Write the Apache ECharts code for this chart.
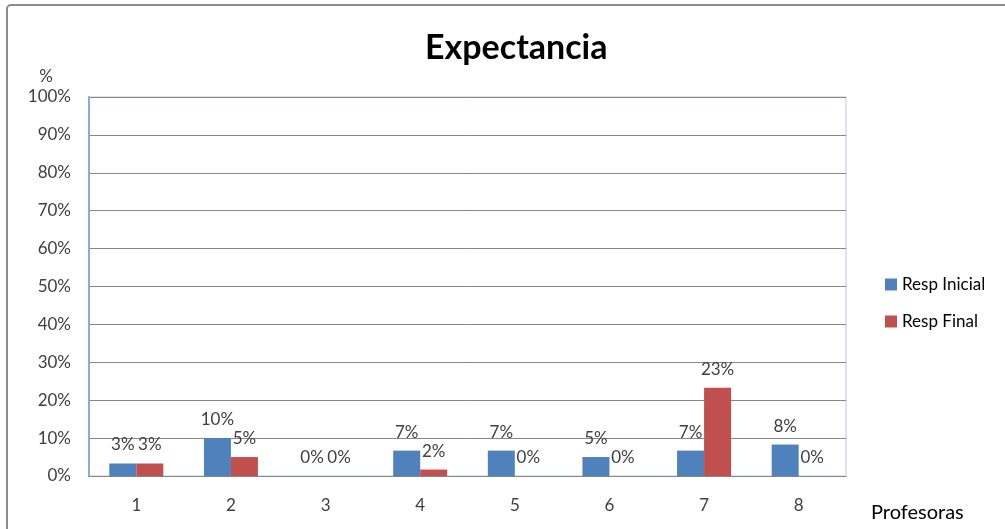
<!DOCTYPE html>
<html>
<head>
<meta charset="utf-8">
<title>Expectancia</title>
<script src="https://cdn.jsdelivr.net/npm/echarts@6/dist/echarts.min.js"></script>
<style>
  html, body { margin: 0; padding: 0; background: #fff; }
  #chart { width: 1005px; height: 529px; }
</style>
</head>
<body>
<div id="chart"></div>
<script>
// profesoras 1..8, valores en %
const categories = ['1', '2', '3', '4', '5', '6', '7', '8']
const respInicial = [3.3, 10, 0, 6.7, 6.7, 5, 6.7, 8.3]
const respFinal = [3.3, 5, 0, 1.7, 0, 0, 23.3, 0]
const yTicks = [0, 10, 20, 30, 40, 50, 60, 70, 80, 90, 100]

const fontFamily = 'Lato'
const textColor = '#404040'

const chart = echarts.init(document.getElementById('chart'))

const barLabel = {
  show: true,
  position: 'top',
  distance: 10,
  color: textColor,
  fontFamily,
  fontSize: 17,
  formatter: p => Math.round(p.value) + '%'
}

chart.setOption({
  animation: false,
  graphic: [{
    type: 'rect',
    shape: { x: 7, y: 5, width: 1020, height: 560, r: 4 },
    style: { fill: 'none', stroke: '#8c8c8c', lineWidth: 2 },
    silent: true
  }],
  title: {
    text: 'Expectancia',
    left: 420,
    top: 26,
    textStyle: { fontFamily, fontSize: 34, fontWeight: 'bold', color: '#000' }
  },
  legend: {
    orient: 'vertical',
    left: 880,
    top: 271,
    itemWidth: 12,
    itemHeight: 12,
    itemGap: 20,
    icon: 'rect',
    textStyle: { fontFamily, fontSize: 17, color: '#000' },
    data: ['Resp Inicial', 'Resp Final']
  },
  grid: {
    left: 89,
    right: 159,
    top: 97,
    bottom: 53,
    show: true,
    borderColor: '#b9cde5',
    borderWidth: 1
  },
  xAxis: {
    type: 'category',
    data: categories,
    name: 'Profesoras',
    nameLocation: 'end',
    nameGap: 25,
    nameTextStyle: {
      fontFamily,
      fontSize: 20,
      color: '#000',
      verticalAlign: 'top',
      padding: [27, 0, 0, 0]
    },
    axisLine: { lineStyle: { color: '#868686' } },
    axisTick: { show: false },
    axisLabel: { color: textColor, fontFamily, fontSize: 17, margin: 21 }
  },
  yAxis: {
    type: 'value',
    min: 0,
    max: 100,
    interval: 10,
    name: '%',
    nameLocation: 'end',
    nameGap: 12,
    nameTextStyle: { fontFamily, fontSize: 17, color: textColor, padding: [0, 86, 0, 0] },
    axisLine: { show: true, lineStyle: { color: '#8eaad6', width: 2 } },
    axisTick: { show: false },
    splitLine: { lineStyle: { color: '#868686', width: 1 } },
    axisLabel: {
      color: textColor,
      fontFamily,
      fontSize: 17,
      margin: 18,
      formatter: v => (yTicks.includes(v) ? v + '%' : '')
    }
  },
  series: [
    {
      name: 'Resp Inicial',
      type: 'bar',
      data: respInicial,
      barWidth: 27,
      barGap: '0%',
      itemStyle: { color: '#4f81bd' },
      label: barLabel
    },
    {
      name: 'Resp Final',
      type: 'bar',
      data: respFinal,
      barWidth: 27,
      itemStyle: { color: '#c0504d' },
      label: barLabel
    }
  ]
})
</script>
</body>
</html>
